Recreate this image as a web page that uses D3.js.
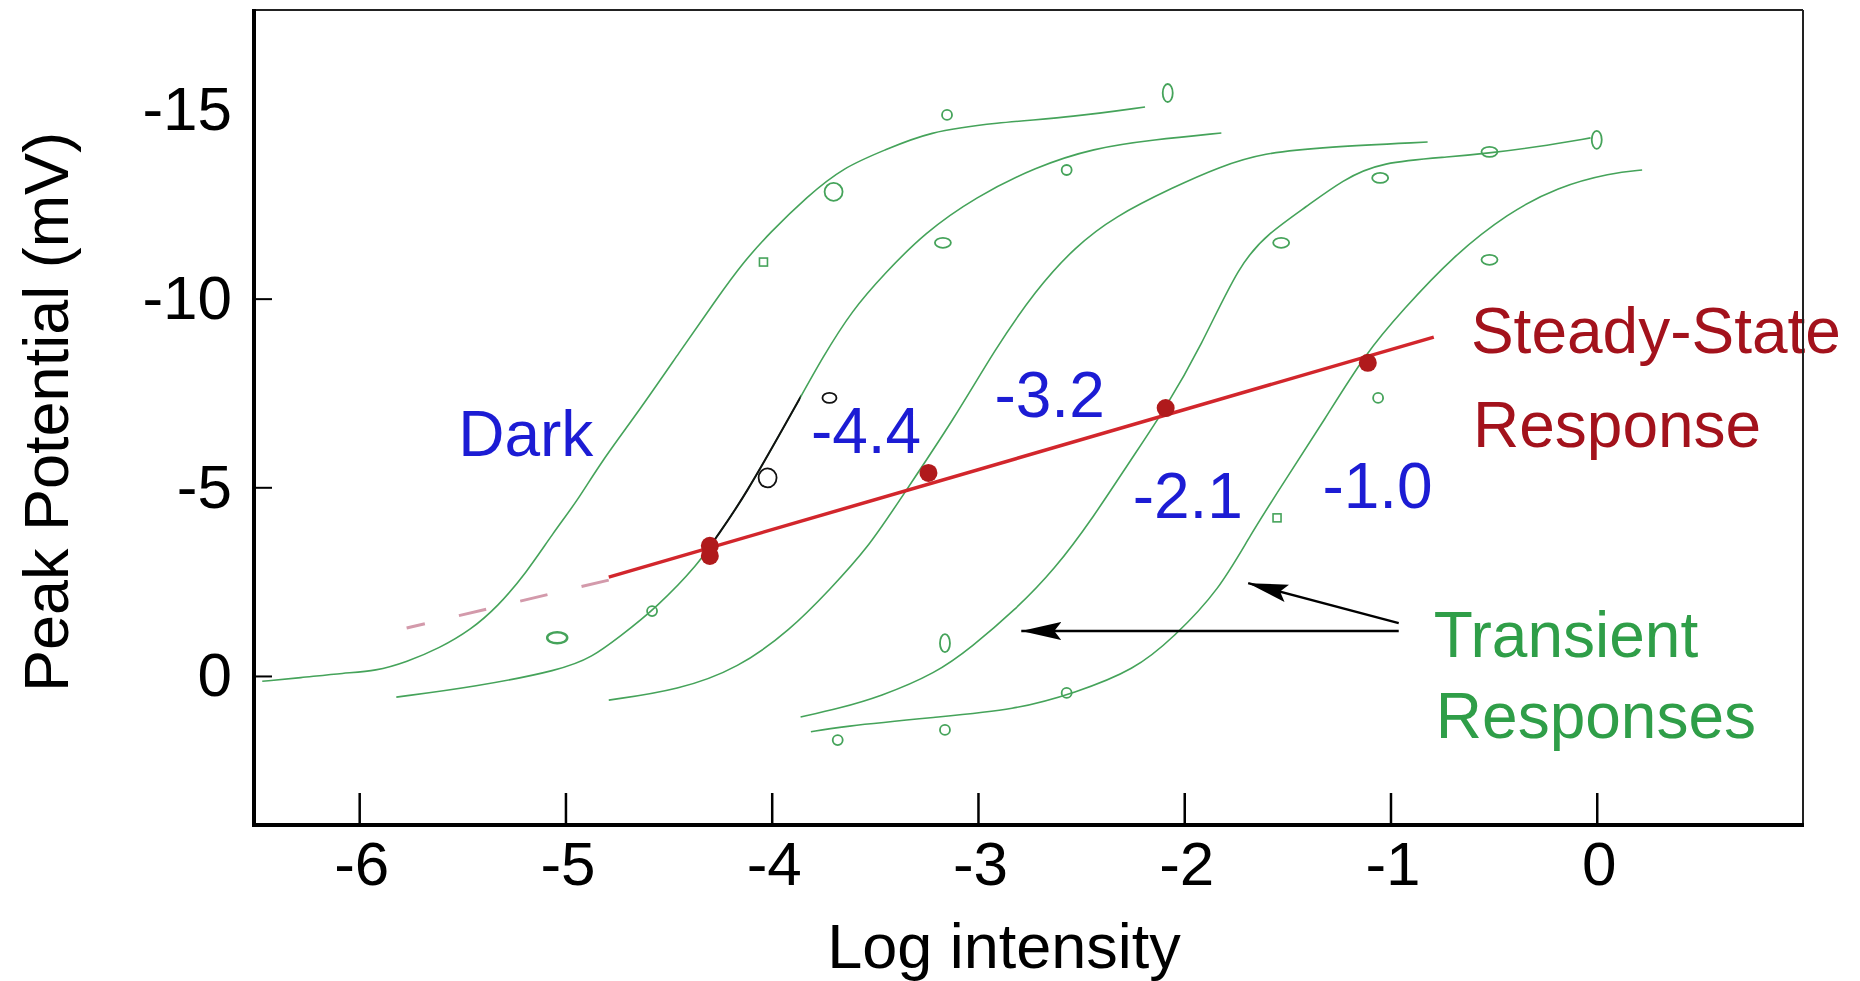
<!DOCTYPE html>
<html>
<head>
<meta charset="utf-8">
<script src="https://cdn.jsdelivr.net/npm/d3@7"></script>
<style>
  html, body { margin: 0; padding: 0; background: #fff; }
  svg { display: block; }
</style>
</head>
<body>
<svg id="chart" width="1860" height="981"></svg>
<script>
// Data: x = log intensity, y = peak potential (mV)
const xTicks = [-6, -5, -4, -3, -2, -1, 0];
const yTicks = [-15, -10, -5, 0];

// Transient responses, one curve per background level
const darkX = [-6.47, -6.29, -6.07, -5.92, -5.77, -5.61, -5.46, -5.33, -5.19, -5.06, -4.94, -4.83, -4.64, -4.45, -4.26, -4.14, -4.01, -3.83, -3.65, -3.45, -3.24, -2.92, -2.53, -2.19];
const darkY = [0.14, 0.05, -0.08, -0.13, -0.37, -0.74, -1.22, -1.83, -2.73, -3.79, -4.66, -5.65, -7.05, -8.56, -10.05, -10.95, -11.74, -12.70, -13.49, -13.94, -14.42, -14.66, -14.82, -15.08];

const bg44X = [-5.82, -5.44, -5.02, -4.87, -4.74, -4.56, -4.35, -4.28, -4.14, -3.86, -3.76, -3.61, -3.45, -3.26, -3.01, -2.72, -2.44, -2.15, -1.82];
const bg44Y = [0.56, 0.29, -0.16, -0.50, -1.03, -1.80, -3.00, -3.60, -4.66, -7.39, -8.38, -9.70, -10.68, -11.74, -12.70, -13.49, -13.99, -14.21, -14.39];

const bg32X = [-4.79, -4.45, -4.16, -3.91, -3.72, -3.53, -3.38, -3.11, -2.92, -2.72, -2.53, -2.34, -2.05, -1.83, -1.62, -1.31, -0.82];
const bg32Y = [0.64, 0.37, -0.21, -1.22, -2.28, -3.42, -4.66, -6.86, -8.64, -10.23, -11.37, -12.17, -12.96, -13.49, -13.86, -14.02, -14.15];

const bg21X = [-3.86, -3.67, -3.48, -3.20, -3.03, -2.82, -2.63, -2.44, -2.26, -2.09, -1.92, -1.73, -1.59, -1.41, -1.23, -1.05, -0.70, -0.52, -0.29, -0.03];
const bg21Y = [1.09, 0.85, 0.56, -0.08, -0.77, -1.75, -2.81, -4.21, -5.72, -7.10, -8.72, -10.95, -11.74, -12.43, -13.15, -13.62, -13.76, -13.86, -14.02, -14.26];

const bg10X = [-3.81, -3.68, -3.20, -2.82, -2.53, -2.24, -2.05, -1.83, -1.68, -1.51, -1.32, -1.12, -0.94, -0.70, -0.43, -0.19, 0.07, 0.22];
const bg10Y = [1.48, 1.35, 1.09, 0.90, 0.45, -0.16, -1.03, -2.28, -3.74, -5.19, -6.79, -8.56, -9.70, -11.11, -12.27, -12.96, -13.33, -13.41];

// part of the -4.4 curve that is drawn in black
const blackRange = [-4.28, -3.86];

// measured points around the curves
const pointX = [-2.08, -3.15, -3.70, -4.04, -5.04, -2.57, -3.17, -3.72, -4.02, -4.58, -3.16, -0.52, 0.00, -1.05, -1.53, -0.52, -1.06, -1.55, -2.57, -3.16, -3.68];
const pointY = [-15.45, -14.87, -12.83, -10.97, -1.01, -13.41, -11.48, -7.37, -5.25, -1.72, -0.87, -13.89, -14.21, -13.20, -11.48, -11.03, -7.37, -4.19, 0.45, 1.43, 1.70];
const pointKind = ["ovalTall", "ring", "ringBig", "square", "ovalWide", "ring", "ovalFlat", "ovalBlack", "ringBlack", "ring", "ovalTall", "ovalFlat", "ovalTall", "ovalFlat", "ovalFlat", "ovalFlat", "ring", "square", "ring", "ring", "ring"];

// steady-state response
const steadyLineX = [-4.79, -0.79];
const steadyLineY = [-2.62, -8.98];
const steadyExtX = [-4.79, -5.77];
const steadyExtY = [-2.54, -1.27];
const steadyX = [-4.30, -4.30, -3.24, -2.09, -1.11];
const steadyY = [-3.45, -3.18, -5.38, -7.10, -8.30];

// annotations (text, anchor in data units)
const labelText = ["Dark", "-4.4", "-3.2", "-2.1", "-1.0", "Steady-State", "Response", "Transient", "Responses"];
const labelX = [-5.52, -3.81, -2.92, -2.25, -1.33, -0.61, -0.60, -0.79, -0.78];
const labelY = [-5.83, -5.91, -6.86, -4.19, -4.45, -8.56, -6.07, -0.50, 1.64];
const labelKind = ["level", "level", "level", "level", "level", "steady", "steady", "transient", "transient"];

const arrowFromX = [-0.96, -0.96];
const arrowFromY = [-1.40, -1.19];
const arrowToX = [-1.69, -2.79];
const arrowToY = [-2.46, -1.19];

// ---------------------------------------------------------------
const FONT = "'Liberation Sans', Arial, Helvetica, sans-serif";
const GREEN = "#45a35a";
const margin = { top: 10, right: 57, bottom: 156, left: 254 },
  width = 1860 - margin.left - margin.right,
  height = 981 - margin.top - margin.bottom;

const svg = d3.select("#chart");
svg.append("rect").attr("width", 1860).attr("height", 981).attr("fill", "#fff");

const defs = svg.append("defs");
defs
  .append("marker")
  .attr("id", "head")
  .attr("markerUnits", "userSpaceOnUse")
  .attr("viewBox", "0 0 40 20")
  .attr("markerWidth", 40)
  .attr("markerHeight", 20)
  .attr("refX", 40)
  .attr("refY", 10)
  .attr("orient", "auto")
  .append("path")
  .attr("d", "M0,1 L40,10 L0,19 L7,10 Z")
  .attr("fill", "#000");

const g = svg
  .append("g")
  .attr("transform", `translate(${margin.left},${margin.top})`);

const x = d3.scaleLinear().domain([-6.51, 1.0]).range([0, width]);
const y = d3.scaleLinear().domain([3.95, -17.65]).range([height, 0]);

defs
  .append("clipPath")
  .attr("id", "blackClip")
  .append("rect")
  .attr("x", x(blackRange[0]))
  .attr("y", 0)
  .attr("width", x(blackRange[1]) - x(blackRange[0]))
  .attr("height", height);

// smoothing spline through the traced points
const line = d3
  .line()
  .x((d) => x(d[0]))
  .y((d) => y(d[1]))
  .curve(d3.curveBasis);

// transient curves
const transients = [
  d3.zip(darkX, darkY),
  d3.zip(bg44X, bg44Y),
  d3.zip(bg32X, bg32Y),
  d3.zip(bg21X, bg21Y),
  d3.zip(bg10X, bg10Y),
];

g.append("g")
  .selectAll("path")
  .data(transients)
  .join("path")
  .attr("d", line)
  .attr("fill", "none")
  .attr("stroke", GREEN)
  .attr("stroke-width", 1.6);

// black portion of the -4.4 curve
g.append("path")
  .attr("d", line(transients[1]))
  .attr("clip-path", "url(#blackClip)")
  .attr("fill", "none")
  .attr("stroke", "#111")
  .attr("stroke-width", 2);

// steady-state line and its dashed extension
const straight = d3.line().x((d) => x(d[0])).y((d) => y(d[1]));

g.append("path")
  .attr("d", straight(d3.zip(steadyExtX, steadyExtY)))
  .attr("fill", "none")
  .attr("stroke", "#d39aab")
  .attr("stroke-width", 3)
  .attr("stroke-dasharray", "28,35");

g.append("path")
  .attr("d", straight(d3.zip(steadyLineX, steadyLineY)))
  .attr("fill", "none")
  .attr("stroke", "#d2262c")
  .attr("stroke-width", 3.5);

g.append("g")
  .selectAll("circle")
  .data(d3.zip(steadyX, steadyY))
  .join("circle")
  .attr("cx", (d) => x(d[0]))
  .attr("cy", (d) => y(d[1]))
  .attr("r", 9)
  .attr("fill", "#b01a1c");

// measured points
const kindStyle = {
  ring: { rx: 5, ry: 5, color: GREEN },
  ringBig: { rx: 9, ry: 9, color: GREEN },
  ovalTall: { rx: 5, ry: 9, color: GREEN },
  ovalFlat: { rx: 8, ry: 5, color: GREEN },
  ovalWide: { rx: 10, ry: 5.5, color: GREEN },
  square: { rx: 0, ry: 0, color: GREEN },
  ovalBlack: { rx: 7, ry: 5, color: "#111" },
  ringBlack: { rx: 9, ry: 9.5, color: "#111" },
};
const points = d3.zip(pointX, pointY, pointKind);

g.append("g")
  .selectAll("ellipse")
  .data(points.filter((d) => d[2] !== "square"))
  .join("ellipse")
  .attr("cx", (d) => x(d[0]))
  .attr("cy", (d) => y(d[1]))
  .attr("rx", (d) => kindStyle[d[2]].rx)
  .attr("ry", (d) => kindStyle[d[2]].ry)
  .attr("fill", "none")
  .attr("stroke", (d) => kindStyle[d[2]].color)
  .attr("stroke-width", (d) => (d[2] === "ovalWide" ? 2.5 : 1.8));

g.append("g")
  .selectAll("rect")
  .data(points.filter((d) => d[2] === "square"))
  .join("rect")
  .attr("x", (d) => x(d[0]) - 4)
  .attr("y", (d) => y(d[1]) - 4)
  .attr("width", 8)
  .attr("height", 8)
  .attr("fill", "none")
  .attr("stroke", GREEN)
  .attr("stroke-width", 1.6);

// arrows to the transient curves
g.append("g")
  .selectAll("line")
  .data(d3.range(arrowFromX.length))
  .join("line")
  .attr("x1", (i) => x(arrowFromX[i]))
  .attr("y1", (i) => y(arrowFromY[i]))
  .attr("x2", (i) => x(arrowToX[i]))
  .attr("y2", (i) => y(arrowToY[i]))
  .attr("stroke", "#000")
  .attr("stroke-width", 2.5)
  .attr("marker-end", "url(#head)");

// text annotations
const labelColor = { level: "#1c1cd4", steady: "#a3121c", transient: "#2f9e48" };
g.append("g")
  .selectAll("text")
  .data(d3.range(labelText.length))
  .join("text")
  .attr("x", (i) => x(labelX[i]))
  .attr("y", (i) => y(labelY[i]))
  .attr("font-family", FONT)
  .attr("font-size", 64)
  .attr("fill", (i) => labelColor[labelKind[i]])
  .text((i) => labelText[i]);

// axes
const yAxis = g
  .append("g")
  .call(
    d3
      .axisLeft(y)
      .tickValues(yTicks)
      .tickSizeInner(-18)
      .tickSizeOuter(0)
      .tickPadding(22)
      .tickFormat((d) => String(d))
  )
  .attr("font-family", FONT)
  .attr("font-size", 62);
yAxis.select(".domain").remove();
yAxis.selectAll(".tick line").attr("stroke", "#000").attr("stroke-width", 2);
yAxis
  .selectAll(".tick")
  .filter((d) => d === -15)
  .select("line")
  .remove();
yAxis.selectAll(".tick text").attr("fill", "#000");

const xAxis = g
  .append("g")
  .attr("transform", `translate(0,${height})`)
  .call(
    d3
      .axisBottom(x)
      .tickValues(xTicks)
      .tickSizeInner(-32)
      .tickSizeOuter(0)
      .tickPadding(16)
      .tickFormat((d) => String(d))
  )
  .attr("font-family", FONT)
  .attr("font-size", 62);
xAxis.select(".domain").remove();
xAxis.selectAll(".tick line").attr("stroke", "#000").attr("stroke-width", 2.5);
xAxis.selectAll(".tick text").attr("fill", "#000").attr("dx", 2);

// frame
g.append("line").attr("x1", 0).attr("x2", width).attr("y1", 0).attr("y2", 0)
  .attr("stroke", "#222").attr("stroke-width", 2);
g.append("line").attr("x1", width).attr("x2", width).attr("y1", 0).attr("y2", height)
  .attr("stroke", "#222").attr("stroke-width", 2);
g.append("line").attr("x1", 0).attr("x2", 0).attr("y1", -1).attr("y2", height + 2)
  .attr("stroke", "#000").attr("stroke-width", 4);
g.append("line").attr("x1", -2).attr("x2", width + 1).attr("y1", height).attr("y2", height)
  .attr("stroke", "#000").attr("stroke-width", 4);

// axis titles
svg
  .append("text")
  .attr("x", 1004)
  .attr("y", 968)
  .attr("text-anchor", "middle")
  .attr("font-family", FONT)
  .attr("font-size", 63)
  .text("Log intensity");

svg
  .append("text")
  .attr("transform", "translate(68,412) rotate(-90)")
  .attr("text-anchor", "middle")
  .attr("font-family", FONT)
  .attr("font-size", 63)
  .text("Peak Potential (mV)");
</script>
</body>
</html>
